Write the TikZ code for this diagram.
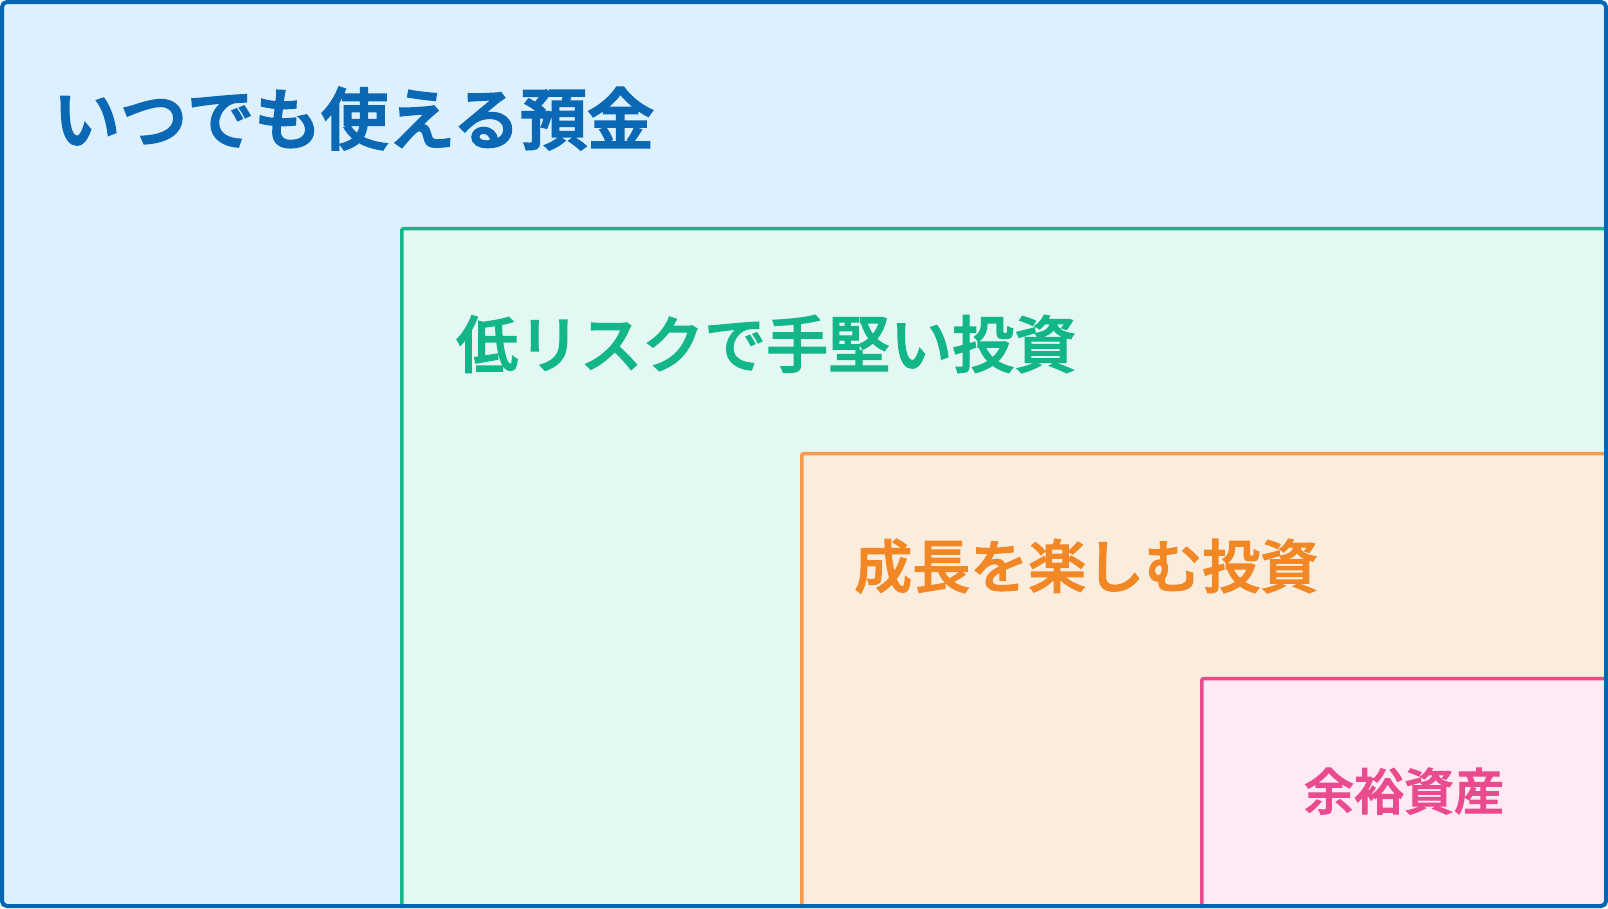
\documentclass[tikz,border=0pt]{standalone}
\usepackage{fontspec}
\newfontfamily\jpfonta[FakeBold=3]{Noto Sans CJK JP Medium}
\newfontfamily\jpfontb[FakeBold=2]{Noto Sans CJK JP Medium}
\definecolor{outerfill}{HTML}{DDF0FE}
\definecolor{outerline}{HTML}{0066B3}
\definecolor{bluetext}{HTML}{0A68B4}
\definecolor{greenfill}{HTML}{E3F8F2}
\definecolor{greenline}{HTML}{14B98B}
\definecolor{greentext}{HTML}{13B688}
\definecolor{orangefill}{HTML}{FAEDDE}
\definecolor{orangeline}{HTML}{F89A4B}
\definecolor{orangetext}{HTML}{F28726}
\definecolor{pinkfill}{HTML}{FEEAF4}
\definecolor{pinkline}{HTML}{EC4A8E}
\definecolor{pinktext}{HTML}{EA4B8E}
\tikzset{
  tierbox/.style={line width=3.6pt, rounded corners=2pt},
  tierlabel/.style={inner sep=0pt, anchor=base west}
}
\begin{document}
\begin{tikzpicture}[x=1pt,y=-1pt]
\useasboundingbox (0,0) rectangle (1608,908);
\fill[outerfill, rounded corners=6pt] (0,0) rectangle (1608,908);
\begin{scope}
  \clip[rounded corners=6pt] (0,0) rectangle (1608,908);
  \draw[tierbox, draw=greenline, fill=greenfill] (401.8,228.6) rectangle (1640,940);
  \draw[tierbox, draw=orangeline, fill=orangefill] (801.8,453.6) rectangle (1640,940);
  \draw[tierbox, draw=pinkline, fill=pinkfill] (1201.8,678.6) rectangle (1640,940);
\end{scope}
\draw[outerline, line width=4pt, rounded corners=5pt] (2,2) rectangle (1606,906);
\node[tierlabel, text=bluetext, font=\jpfonta\fontsize{67}{72}\selectfont] (t1) at (53,144) {いつでも使える預金};
\node[tierlabel, text=greentext, font=\jpfontb\fontsize{62}{67}\selectfont] (t2) at (456,367.5) {低リスクで手堅い投資};
\node[tierlabel, text=orangetext, font=\jpfontb\fontsize{58}{62}\selectfont] (t3) at (854,588) {成長を楽しむ投資};
\node[inner sep=0pt, anchor=base, text=pinktext, font=\jpfontb\fontsize{50}{54}\selectfont] (t4) at (1404,810) {余裕資産};
\end{tikzpicture}
\end{document}
